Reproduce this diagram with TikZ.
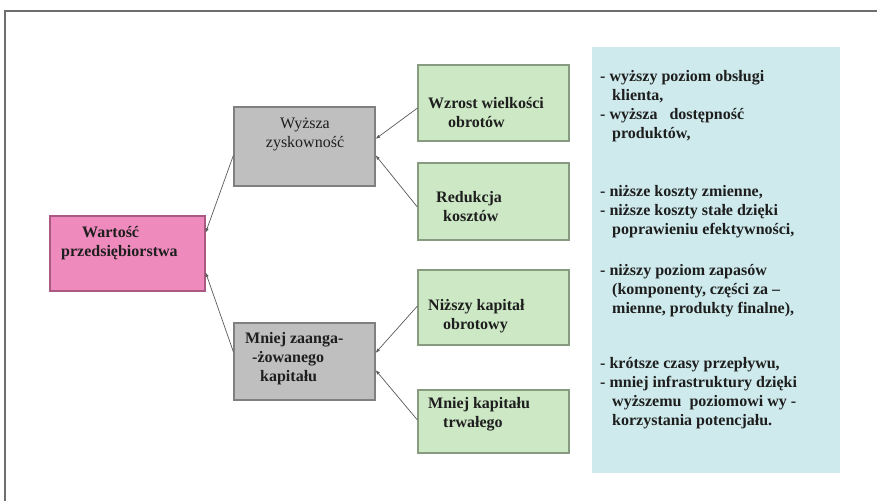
\documentclass[tikz,border=0pt]{standalone}
\usepackage{fontspec}
\setmainfont{Liberation Serif}[BoldFont={Liberation Serif Bold}]
\usetikzlibrary{arrows.meta,calc}
\definecolor{pinkf}{RGB}{238,138,188}
\definecolor{pinkd}{RGB}{170,90,130}
\definecolor{grayf}{RGB}{191,191,191}
\definecolor{grayd}{RGB}{128,128,128}
\definecolor{greenf}{RGB}{204,232,196}
\definecolor{greend}{RGB}{135,155,128}
\definecolor{bluef}{RGB}{206,234,236}
\definecolor{framec}{RGB}{110,110,110}
\definecolor{txt}{RGB}{30,30,30}
\definecolor{conc}{RGB}{90,90,90}
\tikzset{
  boxbase/.style={rectangle, line width=1.2pt, inner sep=0pt},
  pinkbox/.style={boxbase, fill=pinkf, draw=pinkd},
  graybox/.style={boxbase, fill=grayf, draw=grayd},
  greenbox/.style={boxbase, fill=greenf, draw=greend},
  lbl/.style={inner sep=0pt, text=txt, font=\fontsize{16}{19}\selectfont\bfseries},
  lblL/.style={lbl, align=left, anchor=west},
  lblC/.style={lbl, align=center},
  conn/.style={draw=conc, line width=0.7pt, -{Latex[length=4.5pt,width=3.5pt]}}
}
\begin{document}
\begin{tikzpicture}[x=1pt,y=-1pt]
\useasboundingbox (0,0) rectangle (877,501);
\fill[white] (0,0) rectangle (877,501);
\draw[framec, line width=1.2pt] (5,501) -- (5,11) -- (877,11);

% boxes
\node[pinkbox, minimum width=155pt, minimum height=75pt] (w) at (127.5,253.5) {};
\node[graybox, minimum width=141pt, minimum height=79pt] (zy) at (304.5,146.5) {};
\node[graybox, minimum width=141pt, minimum height=77pt] (mz) at (304.5,361.5) {};
\node[greenbox, minimum width=151pt, minimum height=76pt] (g1) at (493.5,103) {};
\node[greenbox, minimum width=151pt, minimum height=77pt] (g2) at (493.5,201.5) {};
\node[greenbox, minimum width=151pt, minimum height=75pt] (g3) at (493.5,307.5) {};
\node[greenbox, minimum width=151pt, minimum height=63pt] (g4) at (493.5,421.5) {};
\node[rectangle, fill=bluef, minimum width=248pt, minimum height=426pt, inner sep=0pt] (bl) at (716,260) {};

% box texts
\node[lblL] (tw) at (61,243) {\hspace*{21pt}Wartość\\przedsiębiorstwa};
\node[lblC, font=\fontsize{16}{19}\selectfont\mdseries] (tzy) at (305,134) {Wyższa\\zyskowność};
\node[lblL] (tmz) at (245,359) {Mniej zaanga-\\\hspace*{7pt}-żowanego\\\hspace*{15pt}kapitału};
\node[lblL] (tg1) at (428,112.5) {Wzrost wielkości\\\hspace*{20pt}obrotów};
\node[lblL] (tg2) at (436,207) {Redukcja\\\hspace*{7pt}kosztów};
\node[lblL] (tg3) at (428,316) {Niższy kapitał\\\hspace*{15pt}obrotowy};
\node[lblL] (tg4) at (428,414) {Mniej kapitału\\\hspace*{15pt}trwałego};

% panel texts
\node[lblL] (b1) at (600,106.5) {- wyższy poziom obsługi\\\hspace*{12pt}klienta,\\- wyższa \ \ dostępność\\\hspace*{12pt}produktów,};
\node[lblL] (b2) at (600,212) {- niższe koszty zmienne,\\- niższe koszty stałe dzięki\\\hspace*{12pt}poprawieniu efektywności,};
\node[lblL] (b3) at (600,290.5) {- niższy poziom zapasów\\\hspace*{12pt}(komponenty, części za –\\\hspace*{12pt}mienne, produkty finalne),};
\node[lblL] (b4) at (600,393.5) {- krótsze czasy przepływu,\\- mniej infrastruktury dzięki\\\hspace*{12pt}wyższemu \ poziomowi wy -\\\hspace*{12pt}korzystania potencjału.};

% connectors
\draw[conn] ($(g1.north west)!0.566!(g1.south west)$) -- ($(zy.north east)!0.405!(zy.south east)$);
\draw[conn] ($(g2.north west)!0.571!(g2.south west)$) -- ($(zy.north east)!0.61!(zy.south east)$);
\draw[conn] ($(zy.north west)!0.61!(zy.south west)$) -- ($(w.north east)!0.227!(w.south east)$);
\draw[conn] ($(mz.north west)!0.377!(mz.south west)$) -- ($(w.north east)!0.747!(w.south east)$);
\draw[conn] ($(g3.north west)!0.48!(g3.south west)$) -- ($(mz.north east)!0.39!(mz.south east)$);
\draw[conn] ($(g4.north west)!0.476!(g4.south west)$) -- ($(mz.north east)!0.61!(mz.south east)$);
\end{tikzpicture}
\end{document}
